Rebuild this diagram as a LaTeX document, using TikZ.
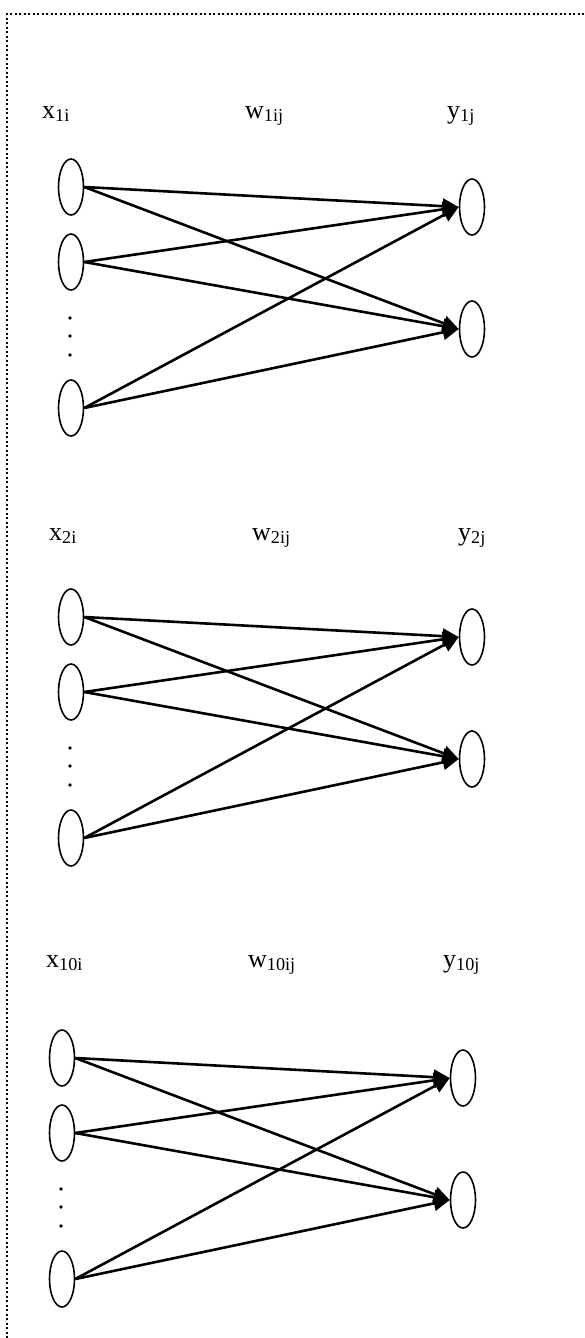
\documentclass[tikz,border=0pt]{standalone}
\usepackage{fontspec}
\setmainfont{Liberation Serif}
\usetikzlibrary{arrows.meta, shapes.geometric, positioning}

\begin{document}
\begin{tikzpicture}[
  x=1pt, y=-1pt,
  neuron/.style={ellipse, draw, line width=1.6pt, minimum width=25pt,
                 minimum height=56pt, inner sep=0pt},
  link/.style={-{Triangle[length=16pt, width=15pt]}, line width=2.6pt},
  lab/.style={anchor=base west, inner sep=0pt, font=\fontsize{26}{30}\selectfont},
  frame/.style={line width=1.5pt, dash pattern=on 2pt off 2.5pt}
]
  \useasboundingbox (0,0) rectangle (584,1338);
  \draw[frame] (7,1338) -- (7,14) -- (584,14);

  % labels of the three layers
  \node[lab] (xlab1) at (42,118)  {x\textsubscript{1i}};
  \node[lab] (wlab1) at (245,118) {w\textsubscript{1ij}};
  \node[lab] (ylab1) at (447,118) {y\textsubscript{1j}};
  \node[lab] (xlab2) at (49,540)  {x\textsubscript{2i}};
  \node[lab] (wlab2) at (252,540) {w\textsubscript{2ij}};
  \node[lab] (ylab2) at (458,540) {y\textsubscript{2j}};
  \node[lab] (xlab3) at (46,967)  {x\textsubscript{10i}};
  \node[lab] (wlab3) at (248,967) {w\textsubscript{10ij}};
  \node[lab] (ylab3) at (443,967) {y\textsubscript{10j}};

  % inputs, outputs and weights
  \foreach \blk/\yo/\dx in {1/187/0, 2/617/0, 3/1058/-9} {
    \node[neuron] (x\blk a) at (71+\dx, \yo)     {};
    \node[neuron] (x\blk b) at (71+\dx, \yo+75)  {};
    \node[neuron] (x\blk c) at (71+\dx, \yo+221) {};
    \node[neuron] (y\blk a) at (472+\dx, \yo+20)  {};
    \node[neuron] (y\blk b) at (472+\dx, \yo+142) {};
    \foreach \d in {131, 149, 168}
      \fill (70+\dx, \yo+\d) circle (1.8pt);
    \foreach \i in {a, b, c}
      \foreach \j in {a, b}
        \draw[link] (x\blk\i.east) -- (y\blk\j.west);
  }
\end{tikzpicture}
\end{document}
